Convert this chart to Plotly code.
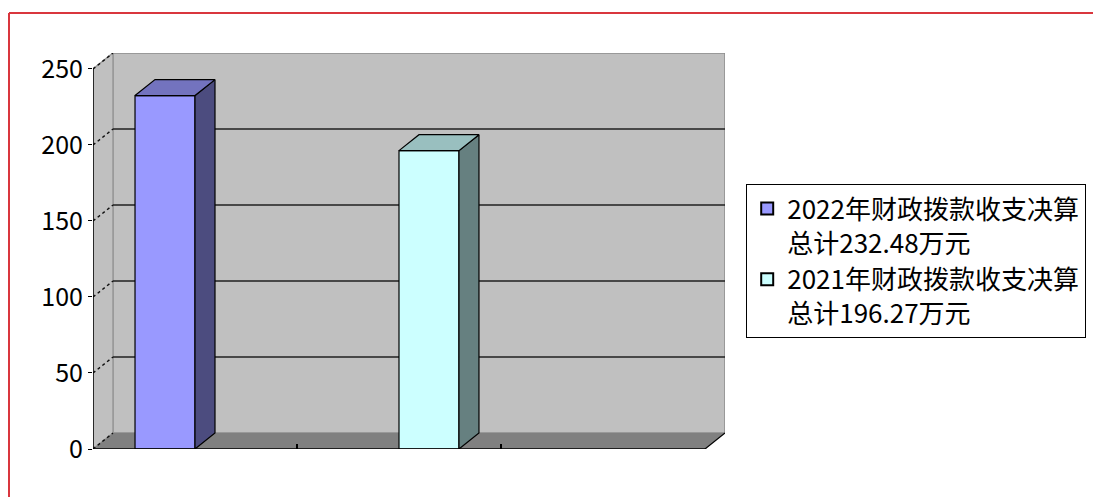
import plotly.graph_objects as go

# ---------------- data ----------------
category_pos = [0.5, 1.5, 2.5]
series_names = ["2022年财政拨款收支决算<br>总计232.48万元", "2021年财政拨款收支决算<br>总计196.27万元"]
series1_values = [232.48, None, None]
series2_values = [None, 196.27, None]
y_tickvals = [0, 50, 100, 150, 200, 250]
y_ticktext = ["0", "50", "100", "150", "200", "250"]

front_colors = ["#9999FF", "#CCFFFF"]
side_colors = ["#4C4C7F", "#668080"]
top_colors = ["#7373BF", "#99BFBF"]

# ---------------- geometry (3D look) ----------------
N_CAT = 3
Y_MAX = 250
DX = 0.098      # depth offset in category units
DY = 10.5       # depth offset in value units
BARGAP = 0.412
W = (1 - BARGAP) / 2

# page offset (body margin of the html page)
OFF = 8
FIG_W, FIG_H = 1101 - OFF, 497 - OFF

fig = go.Figure()

all_series = [series1_values, series2_values]
for i, vals in enumerate(all_series):
    fig.add_trace(go.Bar(
        x=category_pos, y=vals, name=series_names[i],
        marker=dict(color=front_colors[i], line=dict(color="black", width=1.2)),
        hoverinfo="skip",
    ))

# side and top faces of bars
for i, vals in enumerate(all_series):
    for c, v in zip(category_pos, vals):
        if v is None:
            continue
        xc = c + (i - 0.5) * W
        xl, xr = xc - W / 2, xc + W / 2
        fig.add_trace(go.Scatter(
            x=[xr, xr + DX, xr + DX, xr, xr], y=[0, DY, v + DY, v, 0],
            fill="toself", fillcolor=side_colors[i], mode="lines",
            line=dict(color="black", width=1.2), showlegend=False, hoverinfo="skip"))
        fig.add_trace(go.Scatter(
            x=[xl, xl + DX, xr + DX, xr, xl], y=[v, v + DY, v + DY, v, v],
            fill="toself", fillcolor=top_colors[i], mode="lines",
            line=dict(color="black", width=1.2), showlegend=False, hoverinfo="skip"))

shapes = []
# back wall
shapes.append(dict(type="rect", xref="x", yref="y", x0=DX, x1=N_CAT + DX, y0=DY, y1=Y_MAX + DY,
                   fillcolor="#C0C0C0", line=dict(color="#8C8C8C", width=1.5), layer="below"))
# left wall
shapes.append(dict(type="path", xref="x", yref="y",
                   path=f"M 0 0 L {DX} {DY} L {DX} {Y_MAX + DY} L 0 {Y_MAX} Z",
                   fillcolor="#C0C0C0", line=dict(color="#9A9A9A", width=1.5), layer="below"))
# floor
shapes.append(dict(type="path", xref="x", yref="y",
                   path=f"M 0 0 L {N_CAT} 0 L {N_CAT + DX} {DY} L {DX} {DY} Z",
                   fillcolor="#808080", line=dict(color="#808080", width=0), layer="below"))
# gridlines
for v in y_tickvals[1:-1]:
    shapes.append(dict(type="line", xref="x", yref="y", x0=DX, x1=N_CAT + DX, y0=v + DY, y1=v + DY,
                       line=dict(color="#202020", width=1.5), layer="below"))
for v in y_tickvals:
    shapes.append(dict(type="line", xref="x", yref="y", x0=0, x1=DX, y0=v, y1=v + DY,
                       line=dict(color="#101010", width=1.4, dash="dot"), layer="below"))
# front axes
shapes.append(dict(type="line", xref="x", yref="y", x0=0, x1=0, y0=0, y1=Y_MAX,
                   line=dict(color="black", width=1.5), layer="below"))
shapes.append(dict(type="line", xref="x", yref="y", x0=0, x1=N_CAT, y0=0, y1=0,
                   line=dict(color="black", width=1.5), layer="above"))
shapes.append(dict(type="line", xref="x", yref="y", x0=N_CAT, x1=N_CAT + DX, y0=0, y1=DY,
                   line=dict(color="black", width=1.2), layer="above"))

# plot area in screen pixels (reference) -> figure pixels
L, T, PW, PH = 93 - OFF, 53 - OFF, 632, 396
def px(x):
    return (x - OFF - L) / PW
def py(y):
    return (T + PH - (y - OFF)) / PH

# red outer frame (only top and left edges are inside the view)
shapes.append(dict(type="line", xref="paper", yref="paper",
                   x0=px(9), x1=px(1200), y0=py(13), y1=py(13),
                   line=dict(color="#D9363E", width=2), layer="above"))
shapes.append(dict(type="line", xref="paper", yref="paper",
                   x0=px(9), x1=px(9), y0=py(13), y1=py(600),
                   line=dict(color="#D9363E", width=2), layer="above"))

fig.update_layout(
    width=FIG_W, height=FIG_H,
    margin=dict(l=L, r=FIG_W - L - PW, t=T, b=FIG_H - T - PH),
    paper_bgcolor="white", plot_bgcolor="rgba(0,0,0,0)",
    barmode="group", bargap=BARGAP, bargroupgap=0,
    shapes=shapes,
    font=dict(family="Noto Sans CJK SC", color="black"),
    xaxis=dict(range=[0, N_CAT + DX], showgrid=False, zeroline=False, showline=False,
               tickvals=[1, 2], ticks="inside", ticklen=5, tickwidth=1.5, tickcolor="black",
               showticklabels=False, fixedrange=True),
    yaxis=dict(range=[0, Y_MAX + DY], showgrid=False, zeroline=False, showline=False,
               tickvals=y_tickvals, ticktext=y_ticktext, ticks="outside", ticklen=4,
               tickcolor="black", tickfont=dict(size=25, color="black"), fixedrange=True),
    legend=dict(x=px(746), y=py(184), xanchor="left", yanchor="top",
                bordercolor="black", borderwidth=1.2, bgcolor="white",
                font=dict(size=26, color="black", family="Noto Sans CJK SC"),
                tracegroupgap=0, itemsizing="constant", valign="top"),
    showlegend=True,
)

fig.write_html("out.html")
